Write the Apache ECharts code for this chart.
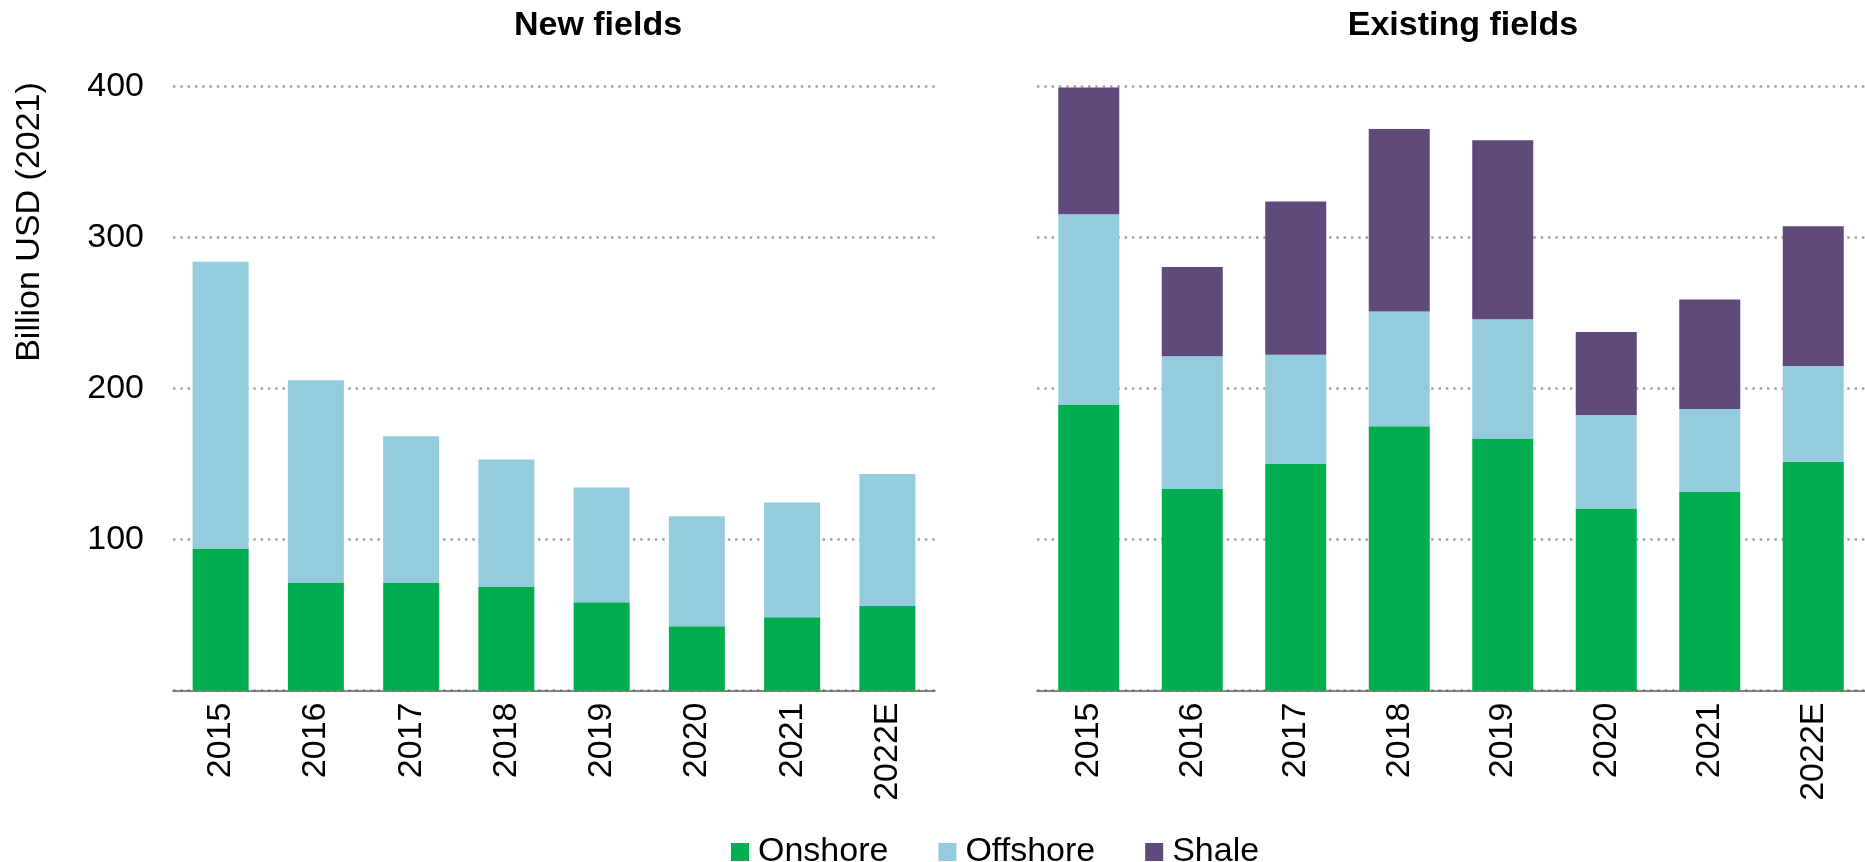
<!DOCTYPE html>
<html>
<head>
<meta charset="utf-8">
<script src="https://cdn.jsdelivr.net/npm/echarts@6/dist/echarts.min.js"></script>
<style>
html,body{margin:0;padding:0;background:#fff;}
#chart{width:1865px;height:862px;}
</style>
</head>
<body>
<div id="chart"></div>
<script>
// ---- data ----
const categories = ['2015','2016','2017','2018','2019','2020','2021','2022E'];
const yTicks = [0, 100, 200, 300, 400];
// New fields (Billion USD 2021)
const newOnshore  = [94, 71.5, 71.5, 68.5, 58.5, 42.5, 48.5, 56];
const newOffshore = [190, 134, 97, 84.5, 76, 73, 76, 87.5];
// Existing fields
const exOnshore  = [189.5, 133.5, 150, 175, 167, 120.5, 131.5, 151.5];
const exOffshore = [126, 88, 72.5, 76, 79, 62, 55, 63.5];
const exShale    = [84, 59, 101.5, 121, 118.5, 55, 72.5, 92.5];
const seriesNames = ['Onshore', 'Offshore', 'Shale'];
const panelTitles = ['New fields', 'Existing fields'];
const yAxisTitle = 'Billion USD (2021)';

// ---- styles ----
const FONT = '"Liberation Sans", Arial, sans-serif';
const colors = { Onshore: '#00AE50', Offshore: '#95CCDD', Shale: '#604A7B' };

const chart = echarts.init(document.getElementById('chart'), null, { renderer: 'canvas' });

function xAxisCfg(gi) {
  return {
    type: 'category', gridIndex: gi, data: categories,
    axisLine: { show: true, lineStyle: { color: '#5f5f5f', width: 1.5 } },
    axisTick: { show: false },
    axisLabel: { rotate: 90, fontSize: 34, color: '#000', fontFamily: FONT, margin: 12, interval: 0 },
    splitLine: { show: false }
  };
}
function yAxisCfg(gi, showLabels) {
  return {
    type: 'value', gridIndex: gi, min: yTicks[0], max: yTicks[yTicks.length - 1], interval: yTicks[1] - yTicks[0],
    axisLine: { show: false }, axisTick: { show: false },
    axisLabel: { show: showLabels, fontSize: 34, color: '#000', fontFamily: FONT, margin: 29, showMinLabel: false },
    splitLine: { show: true, lineStyle: { color: '#A3A3A3', width: 2.5, type: [2.5, 4.8], cap: 'butt' } }
  };
}
function bar(name, data, gi, w) {
  return {
    name: name, type: 'bar', stack: 'p' + gi, xAxisIndex: gi, yAxisIndex: gi,
    data: data, barWidth: w, itemStyle: { color: colors[name] }, emphasis: { disabled: true }
  };
}

const option = {
  animation: false,
  backgroundColor: '#ffffff',
  textStyle: { fontFamily: FONT },
  grid: [
    { left: 173, top: 86.7, width: 762, height: 603.8, containLabel: false },
    { left: 1037, top: 86.7, width: 834, height: 603.8, containLabel: false }
  ],
  xAxis: [xAxisCfg(0), xAxisCfg(1)],
  yAxis: [yAxisCfg(0, true), yAxisCfg(1, false)],
  legend: {
    data: seriesNames, left: 726, top: 830,
    itemWidth: 18, itemHeight: 18, itemGap: 50, icon: 'rect',
    textStyle: { fontSize: 34, color: '#000', fontFamily: FONT, padding: [0, 0, 0, 4] }
  },
  graphic: [
    { type: 'text', x: 598, y: 26, style: { text: panelTitles[0], font: 'bold 34px ' + FONT, fill: '#000', align: 'center', verticalAlign: 'middle' } },
    { type: 'text', x: 1463, y: 26, style: { text: panelTitles[1], font: 'bold 34px ' + FONT, fill: '#000', align: 'center', verticalAlign: 'middle' } },
    { type: 'text', x: 30, y: 222, rotation: Math.PI / 2, style: { text: yAxisTitle, font: '34px ' + FONT, fill: '#000', align: 'center', verticalAlign: 'middle' } }
  ],
  series: [
    bar('Onshore', newOnshore, 0, 56),
    bar('Offshore', newOffshore, 0, 56),
    bar('Onshore', exOnshore, 1, 61),
    bar('Offshore', exOffshore, 1, 61),
    bar('Shale', exShale, 1, 61)
  ]
};
chart.setOption(option);
</script>
</body>
</html>
